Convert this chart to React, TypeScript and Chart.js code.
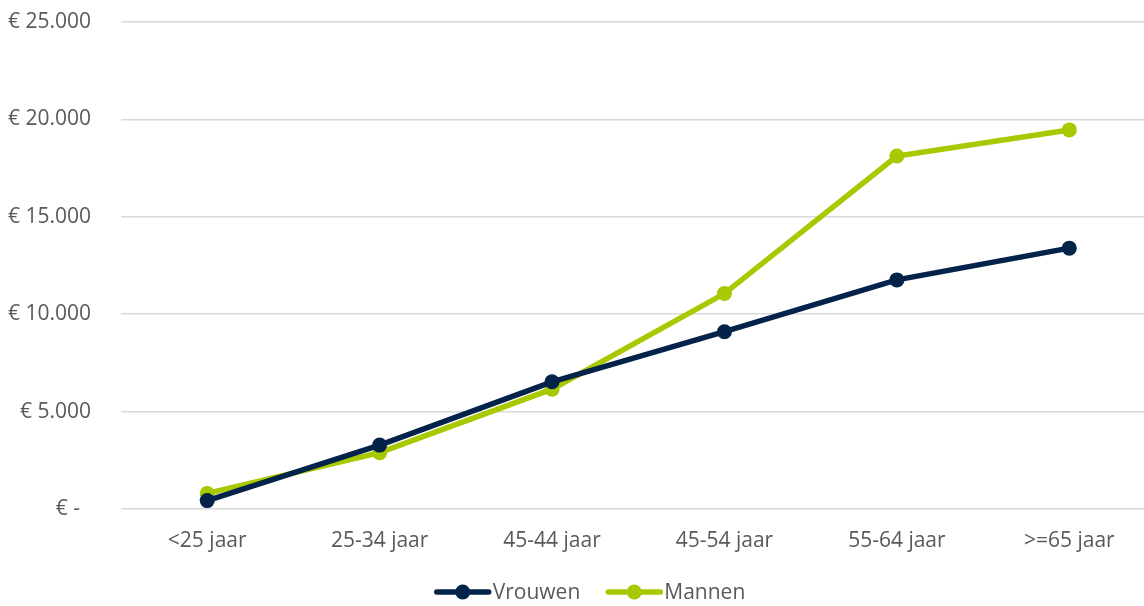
import React, { useEffect, useRef } from "react";
import { Chart, registerables } from "chart.js";

Chart.register(...registerables);

const categories = ["<25 jaar", "25-34 jaar", "45-44 jaar", "45-54 jaar", "55-64 jaar", ">=65 jaar"];
const vrouwen = [430, 3280, 6530, 9100, 11760, 13390];
const mannen = [800, 2890, 6150, 11060, 18120, 19460];
const yTicks = [0, 5000, 10000, 15000, 20000, 25000];

const NAVY = "#03234A";
const LIME = "#A8C800";
const TEXT = "#595959";
const FONT = "'Open Sans', sans-serif";
const FONT_SIZE = 21;

const formatEuro = (v: number) =>
  v === 0 ? "€ -  " : "€ " + v.toLocaleString("de-DE");

// Legend drawn as a line with a centred marker, followed by the label
const lineLegend = {
  id: "lineLegend",
  afterDraw(chart: any) {
    const ctx = chart.ctx;
    const sets = chart.data.datasets;
    ctx.save();
    ctx.font = `${FONT_SIZE}px ${FONT}`;
    ctx.textBaseline = "middle";
    const sym = 56;
    const gap = 2;
    const between = 26;
    const widths = sets.map((d: any) => sym + gap + ctx.measureText(d.label).width);
    const total = widths.reduce((a: number, b: number) => a + b, 0) + between * (sets.length - 1);
    let x = 1144 / 2 - total / 2 + 18;
    const y = chart.height - 14;
    sets.forEach((d: any, i: number) => {
      ctx.strokeStyle = d.borderColor;
      ctx.lineWidth = 5.5;
      ctx.lineCap = "round";
      ctx.beginPath();
      ctx.moveTo(x + 2, y);
      ctx.lineTo(x + sym - 2, y);
      ctx.stroke();
      ctx.fillStyle = d.borderColor;
      ctx.beginPath();
      ctx.arc(x + sym / 2, y, 7.5, 0, Math.PI * 2);
      ctx.fill();
      ctx.fillStyle = TEXT;
      ctx.textAlign = "left";
      ctx.fillText(d.label, x + sym + gap, y + 1);
      x += widths[i] + between;
    });
    ctx.restore();
  },
};

export default function App() {
  const ref = useRef<HTMLCanvasElement>(null);

  useEffect(() => {
    if (!ref.current) return;
    const chart = new Chart(ref.current, {
      type: "line",
      data: {
        labels: categories,
        datasets: [
          {
            label: "Vrouwen",
            data: vrouwen,
            borderColor: NAVY,
            backgroundColor: NAVY,
            borderWidth: 5.5,
            pointRadius: 7.5,
            pointBorderWidth: 0,
            pointBackgroundColor: NAVY,
            tension: 0,
          },
          {
            label: "Mannen",
            data: mannen,
            borderColor: LIME,
            backgroundColor: LIME,
            borderWidth: 5.5,
            pointRadius: 7.5,
            pointBorderWidth: 0,
            pointBackgroundColor: LIME,
            tension: 0,
          },
        ],
      },
      options: {
        animation: false,
        responsive: false,
        layout: { padding: { top: 22, right: 3, bottom: 47, left: 0 } },
        plugins: {
          legend: { display: false },
          tooltip: { enabled: false },
        },
        scales: {
          x: {
            offset: true,
            grid: { display: false, drawTicks: false },
            border: { display: false },
            ticks: {
              color: TEXT,
              font: { family: FONT, size: FONT_SIZE },
              padding: 19,
              maxRotation: 0,
              autoSkip: false,
            },
            afterFit: (s: any) => {
              s.height = 50;
              s.paddingLeft = 0;
              s.paddingRight = 0;
            },
          },
          y: {
            min: 0,
            max: 25000,
            afterBuildTicks: (s: any) => {
              s.ticks = yTicks.map((v) => ({ value: v }));
            },
            grid: { color: "#d9d9d9", lineWidth: 1.5, drawTicks: false },
            border: { display: false },
            ticks: {
              color: TEXT,
              font: { family: FONT, size: FONT_SIZE },
              padding: 30,
              callback: (v: any) => formatEuro(Number(v)),
            },
            afterFit: (s: any) => {
              s.width = 121;
              s.paddingTop = 0;
              s.paddingBottom = 0;
            },
          },
        },
      },
      plugins: [lineLegend],
    });
    return () => chart.destroy();
  }, []);

  return (
    <div
      style={{
        position: "fixed",
        left: 0,
        top: 0,
        width: 1144,
        height: 606,
        overflow: "hidden",
        background: "#fff",
      }}
    >
      <canvas ref={ref} width={1163} height={606} style={{ display: "block" }} />
    </div>
  );
}
